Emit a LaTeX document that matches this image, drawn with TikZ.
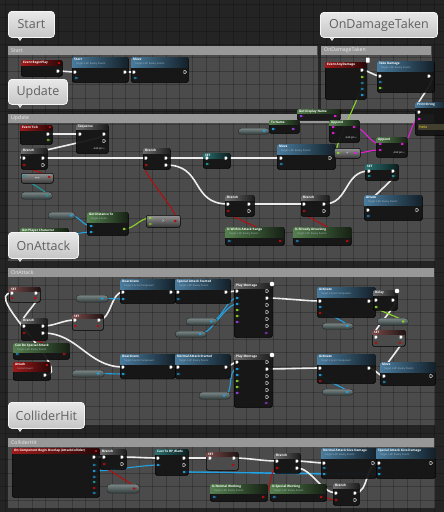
\documentclass[tikz,border=0pt]{standalone}
\usepackage{fontspec}
\setmainfont{Open Sans}
\pgfdeclarelayer{bg}
\pgfdeclarelayer{wires}
\pgfsetlayers{bg,wires,main}
\definecolor{bgcol}{HTML}{242424}
\definecolor{cbodyc}{HTML}{4B4B4B}
\definecolor{cheadc}{HTML}{989898}
\definecolor{nodebg}{HTML}{151515}
\definecolor{nodegrey}{HTML}{4C4C4C}
\definecolor{hred}{HTML}{A01A1A}
\definecolor{hblue}{HTML}{4A7C9E}
\definecolor{hgreen}{HTML}{55804E}
\definecolor{hteal}{HTML}{2A7070}
\definecolor{hgrey}{HTML}{6C6C6C}
\definecolor{hset}{HTML}{7A4A4A}
\definecolor{wblue}{HTML}{22A2E2}
\definecolor{wred}{HTML}{B01010}
\definecolor{wgreen}{HTML}{8CD62C}
\definecolor{wmag}{HTML}{E420D4}
\definecolor{wteal}{HTML}{1E9A9A}
\definecolor{wpurple}{HTML}{9A40E0}
\definecolor{subgrey}{HTML}{B0C0D0}
\definecolor{bubtop}{HTML}{E8E8E8}
\definecolor{bubbot}{HTML}{C6C6C6}
\definecolor{pilltop}{HTML}{7C8888}
\definecolor{pillbot}{HTML}{303A3A}
\def\curfill{nodebg}
\tikzset{
 bpbody/.style={draw=black, fill=\curfill, fill opacity=0.95, rounded corners=1.5pt, inner sep=0pt, line width=0.6pt},
 ntitle/.style={font=\fontsize{3.1}{3.5}\selectfont\bfseries, text=white, inner sep=0pt},
 nsub/.style={font=\fontsize{2.4}{2.8}\selectfont, text=subgrey, inner sep=0pt},
 compact/.style={draw=black, rounded corners=2pt, top color=black!42!white, bottom color=black!78!white, inner sep=0pt, line width=0.5pt},
 pill/.style={draw=black!85, rounded corners=3pt, top color=pilltop, bottom color=pillbot, inner sep=0pt, line width=0.4pt},
 bubble/.style={draw=white!96!black, line width=0.8pt, rounded corners=3.5pt, top color=bubtop, bottom color=bubbot, text=black!62, font=\fontsize{12.5}{14}\selectfont, inner sep=0pt},
 cbox/.style={fill=cbodyc, draw=black!70, line width=0.4pt, inner sep=0pt},
 chtext/.style={font=\fontsize{5.2}{6}\selectfont, text=white!92!black, inner sep=0pt},
 gridline/.style={black, opacity=0.22, line width=0.45pt},
 addpin/.style={font=\fontsize{2.5}{3}\selectfont, text=white, inner sep=0pt, anchor=east},
 wexec/.style={draw=white!93!black, line width=1.6pt},
 wbluew/.style={draw=wblue, line width=1.1pt},
 wredw/.style={draw=wred, line width=1.1pt},
 wgreenw/.style={draw=wgreen, line width=1.1pt},
 wmagw/.style={draw=wmag, line width=1.1pt},
 wtealw/.style={draw=wteal, line width=1.1pt},
}
% node: name,x,y,w,h,headercolour,headerheight,title,subtitle
\newcommand\bpnodeX[9]{%
 \node[bpbody,minimum width=#4pt,minimum height=#5pt,anchor=north west] (#1) at (#2,#3) {};
 \begin{scope}
  \clip[rounded corners=1.5pt] (#1.north west) rectangle (#1.south east);
  \shade[left color=#6,right color=#6!25!black] (#1.north west) rectangle ([yshift=-#7pt]#1.north east);
 \end{scope}
 \node[ntitle,anchor=north west] at ([xshift=2pt,yshift=-0.9pt]#1.north west) {#8};
 \node[nsub,anchor=north west] at ([xshift=4pt,yshift=-5.3pt]#1.north west) {#9};
}
\newcommand\bpnode{\def\curfill{nodebg}\bpnodeX}
\newcommand\bpnodeG{\def\curfill{nodegrey}\bpnodeX}
\newcommand\bpcompact[6]{\node[compact,minimum width=#4pt,minimum height=#5pt,anchor=north west] (#1) at (#2,#3) {};
 \node[font=\fontsize{4}{4}\selectfont\bfseries,text=white!80!black,inner sep=0pt] at (#1.center) {#6};}
\newcommand\bppill[5]{\node[pill,minimum width=#4pt,minimum height=#5pt,anchor=north west] (#1) at (#2,#3) {};}
\newcommand\PinX[3]{\coordinate (#1) at (#2,#3);\fill[white] (#2-1.3,#3-1.5) -- (#2+0.4,#3-1.5) -- (#2+1.6,#3) -- (#2+0.4,#3+1.5) -- (#2-1.3,#3+1.5) -- cycle;}
\newcommand\PinXo[2]{\draw[white,line width=0.45pt] (#1-1.2,#2-1.3) -- (#1+0.4,#2-1.3) -- (#1+1.5,#2) -- (#1+0.4,#2+1.3) -- (#1-1.2,#2+1.3) -- cycle;}
\newcommand\PinD[4]{\coordinate (#1) at (#2,#3);\fill[#4] (#2,#3) circle (1.3pt); \fill[#4] (#2+1.5,#3-1) -- (#2+2.4,#3) -- (#2+1.5,#3+1) -- cycle;}
\newcommand\PinDo[3]{\draw[#3,line width=0.45pt] (#1,#2) circle (1.1pt); \fill[#3] (#1+1.5,#2-1) -- (#1+2.4,#2) -- (#1+1.5,#2+1) -- cycle;}
\newcommand\PinDel[2]{\fill[wred] (#1-1,#2-1) rectangle (#1+1,#2+1);}
\newcommand\Wire[4][14]{\draw[#2] (#3) .. controls +(#1,0) and +(-#1,0) .. (#4);}
\newcommand\Bubble[6]{%
 \fill[bubbot,draw=white,line width=0.5pt] (#2+9,#3+#5-1) -- (#2+15,#3+#5-1) -- (#2+12,#3+#5+3.5) -- cycle;
 \node[bubble,minimum width=#4pt,minimum height=#5pt,anchor=north west] (#1) at (#2,#3) {#6};}
\newcommand\Comment[6]{% name,x,y,w,h,label
 \node[cbox,minimum width=#4pt,minimum height=#5pt,anchor=north west] (#1) at (#2,#3) {};}
\newcommand\CommentHead[2]{%
 \fill[cheadc] (#1.north west) rectangle ([yshift=-8.5pt]#1.north east);
 \node[chtext,anchor=west] at ([xshift=3pt,yshift=-4.3pt]#1.north west) {#2};}

\begin{document}
\begin{tikzpicture}[x=1pt,y=-1pt]
\useasboundingbox (0,0) rectangle (444,512);
\begin{pgfonlayer}{bg}
 \fill[bgcol] (0,0) rectangle (444,512);
 \Comment{cStart}{8}{46}{309}{62}{}
 \Comment{cDmg}{321}{46}{110}{62}{}
 \Comment{cUpd}{8}{114}{426}{146}{}
 \Comment{cAtk}{8}{268}{426}{156}{}
 \Comment{cCol}{8}{438}{426}{69}{}
 \foreach \i in {0,...,33} {\draw[gridline] (\i*13.4+5,0) -- (\i*13.4+5,512);}
 \foreach \j in {0,...,38} {\draw[gridline] (0,\j*13.4+4) -- (444,\j*13.4+4);}
 \CommentHead{cStart}{Start}
 \CommentHead{cDmg}{OnDamageTaken}
 \CommentHead{cUpd}{Update}
 \CommentHead{cAtk}{OnAttack}
 \CommentHead{cCol}{ColliderHit}
\end{pgfonlayer}

% ---------- Start ----------
\bpnode{eBP}{21}{60}{41}{16}{hred}{5}{Event BeginPlay}{}
\PinX{eBPo}{58}{71}\PinDel{59}{62.5}
\bpnode{nStart}{72}{57}{56}{25}{hblue}{10}{Start}{Target is BP Enemy Parent}
\PinX{sIn}{75}{72}\PinX{sOut}{125}{72}\PinDo{76}{78}{wblue}
\bpnode{nMove0}{131}{57}{57}{25}{hblue}{10}{Move}{Target is BP Enemy Parent}
\PinX{m0In}{134}{72}\PinXo{185}{72}\PinDo{135}{78}{wblue}

% ---------- OnDamageTaken ----------
\bpnode{eAD}{325}{62}{41}{37}{hred}{5}{Event AnyDamage}{}
\fill[white,rounded corners=0.5pt] (366,57.5) rectangle (369.5,62.5);
\PinX{adOut}{362}{70}\PinD{adDmg}{362}{77}{wgreen}\PinDo{362}{83}{wblue}\PinDo{362}{89}{wblue}\PinD{u}{362}{95}{wblue}
\bpnode{nTD}{377}{61}{57}{31}{hblue}{10}{Take Damage}{Target is BP Enemy Parent}
\PinX{tdIn}{380}{76}\PinDo{380}{82}{wblue}\PinD{u}{380}{88}{wgreen}\PinX{tdOut}{429}{76}
\bpnode{nPS}{415}{102}{32}{33}{hblue}{5}{Print String}{}
\PinX{psIn}{419}{112}\PinD{psStr}{419}{119}{wmag}
\fill[black!70!olive] (418,124) rectangle (444,130);
\node[font=\fontsize{3.4}{4}\selectfont,text=yellow!80!white,inner sep=0pt,anchor=west] at (419,127) {Hello};

% ---------- Update ----------
\bpnode{eTick}{20}{125}{32}{19}{hred}{5}{Event Tick}{}
\PinX{tickOut}{48}{134}\PinDo{48}{140}{wgreen}\PinDel{50}{127}
\bpnode{nSeq}{76}{124}{32}{29}{hgrey}{5}{Sequence}{}
\PinX{seqIn}{80}{134}\PinX{seqO1}{104}{134}\PinXo{104}{141}
\node[addpin] at (105,149) {Add pin +};
\bpnode{br1}{21}{148}{26}{21}{hgrey}{5}{Branch}{}
\PinX{br1In}{24}{158}\PinD{br1C}{24}{165}{wred}\PinX{br1T}{43}{158}\PinXo{43}{165}
\bpcompact{nEq}{21}{173}{32}{10}{==}
\PinD{eqIn}{24}{176}{wteal}\PinD{eqOut}{49}{177}{wred}
\bppill{pl1}{21}{192}{31}{7}\PinD{pl1o}{47}{195.5}{wteal}
\bpnode{br2}{143}{148}{27}{21}{hgrey}{5}{Branch}{}
\PinX{br2In}{146}{158}\PinD{br2C}{146}{165}{wred}\PinX{br2T}{166}{158}\PinX{br2F}{166}{165}
\bpnode{set1}{203}{153}{27}{15}{hteal}{5}{SET}{}
\PinX{set1In}{207}{158}\PinD{u}{207}{164}{wteal}\PinX{set1Out}{226}{158}
\bppill{pl2}{48}{212}{27}{7}\PinD{pl2o}{71}{215.5}{wblue}
\bpnode{nGD}{87}{212}{41}{23}{hgreen}{10}{Get Distance To}{Target is Actor}
\PinD{gdIn1}{91}{226}{wblue}\PinD{gdIn2}{91}{232}{wblue}\PinD{gdOut}{124}{229}{wgreen}
\bpnode{nGP}{20}{228}{48}{11}{hgreen}{5}{Get Player Character}{}
\PinD{u}{24}{235}{wteal}\PinD{gpOut}{63}{235}{wblue}
\bpcompact{nLt}{146}{215}{34}{12}{>}
\PinD{ltIn1}{150}{218}{wgreen}\PinDo{150}{224}{wgreen}\PinD{ltOut}{175}{221}{wred}
\bpnode{nMove1}{277}{144}{58}{25}{hblue}{10}{Move}{Target is BP Enemy Parent}
\PinX{mv1In}{281}{158}\PinDo{281}{164}{wblue}\PinXo{330}{158}
\bpnode{nGDN}{297}{109}{43}{11}{hgreen}{4.5}{Get Display Name}{}
\PinD{gdnIn}{301}{116}{wpurple}\PinD{gdnOut}{335}{116}{wmag}
\bpnode{nTN}{269}{120}{30}{13}{hgreen}{4.5}{To Name}{}
\PinD{tnIn}{273}{129}{wblue}\PinD{tnOut}{293}{129}{wpurple}
\bppill{pl3}{238}{128}{31}{6}\PinD{pl3o}{264}{131}{wblue}
\bpnode{ap1}{329}{120}{30}{22}{hgreen}{5}{Append}{}
\PinD{ap1A}{333}{127}{wmag}\PinD{ap1B}{333}{133}{wmag}\PinD{ap1O}{354}{127}{wmag}
\node[addpin] at (357,138) {Add pin +};
\bpnode{ap2}{376}{137}{31}{20}{hgreen}{5}{Append}{}
\PinD{ap2A}{380}{144}{wmag}\PinD{ap2B}{380}{150}{wmag}\PinD{ap2O}{402}{144}{wmag}
\node[addpin] at (405,153) {Add pin +};
\bpcompact{nTS}{334}{148}{26}{10}{+}
\PinD{tsIn}{338}{153}{wgreen}\PinD{tsOut}{355}{153}{wmag}
\bpnode{set2}{365}{164}{33}{16}{hteal}{5}{SET}{}
\PinX{set2In}{369}{171}\PinD{u}{369}{176}{wteal}\PinX{set2Out}{393}{171}\PinD{u}{393}{176}{wteal}
\bpnode{br3}{225}{195}{29}{21}{hgrey}{5}{Branch}{}
\PinX{br3In}{228}{204}\PinD{br3C}{228}{211}{wred}\PinX{br3T}{249}{204}\PinXo{249}{211}
\bpnode{br4}{301}{195}{28}{21}{hgrey}{5}{Branch}{}
\PinX{br4In}{304}{204}\PinD{br4C}{304}{211}{wred}\PinX{br4T}{324}{204}\PinXo{324}{211}
\bpnode{nAtk}{364}{195}{58}{25}{hblue}{10}{Attack}{Target is BP Enemy Parent}
\PinX{atkIn}{368}{210}\PinDo{368}{216}{wblue}\PinXo{417}{210}
\bpnode{nWR}{225}{227}{59}{18}{hgreen}{10}{Is Within Attack Range}{Target is BP Enemy Parent}
\PinDo{229}{241}{wblue}\PinD{wrOut}{280}{241}{wred}
\bpnode{nAA}{293}{227}{58}{18}{hgreen}{10}{Is Already Attacking}{Target is BP Enemy Parent}
\PinDo{297}{241}{wblue}\PinD{aaOut}{347}{241}{wred}

% ---------- OnAttack ----------
\bpnodeG{set3}{9}{287}{31}{15}{hset}{4}{SET}{}
\PinX{s3In}{12}{293}\PinD{u}{12}{298}{wred}\PinX{s3Out}{36}{293}\PinD{u}{35}{298}{wred}
\bpnode{obr}{21}{318}{26}{22}{hgrey}{5}{Branch}{}
\PinX{obIn}{24}{326}\PinD{obC}{24}{333}{wred}\PinX{obT}{43}{326}\PinX{obF}{43}{333}
\bpnodeG{set4}{72}{314}{31}{16}{hset}{4}{SET}{}
\PinX{s4In}{75}{320}\PinD{u}{75}{326}{wred}\PinX{s4Out}{99}{320}\PinD{u}{98}{326}{wred}
\bpnode{nCD}{13}{343}{56}{16}{hgreen}{9}{Can Do Special Attack}{Target is BP Enemy Parent}
\PinDo{17}{354}{wblue}\PinD{cdOut}{64}{354}{wred}
\bpnode{eAtk}{13}{362}{37}{18}{hred}{9}{Attack}{Custom Event}
\PinX{atkEvOut}{45}{375}\PinDel{47}{364.5}
\bppill{pA}{76}{295}{32}{7}\PinD{pao}{102}{298.5}{wblue}
\bppill{pB}{72}{370}{32}{7}\PinD{pbo}{98}{373.5}{wblue}
\bpnode{d1}{120}{279}{55}{24}{hblue}{10}{Deactivate}{Target is Actor Component}
\PinX{d1In}{123}{292}\PinD{d1T}{123}{299}{wblue}\PinX{d1Out}{171}{292}
\bpnode{nSAS}{175}{279}{55}{24}{hblue}{10}{Special Attack Started}{Target is BP Enemy Parent}
\PinX{sasIn}{178}{292}\PinDo{178}{299}{wblue}\PinX{sasOut}{226}{292}
\bpnode{d2}{120}{354}{55}{24}{hblue}{10}{Deactivate}{Target is Actor Component}
\PinX{d2In}{123}{367}\PinD{d2T}{123}{374}{wblue}\PinX{d2Out}{171}{367}
\bpnode{nNAS}{175}{354}{55}{24}{hblue}{10}{Normal Attack Started}{Target is BP Enemy Parent}
\PinX{nasIn}{178}{367}\PinDo{178}{374}{wblue}\PinX{nasOut}{226}{367}
\bpnode{pm1}{234}{283}{38}{54}{hgrey}{5}{Play Montage}{}
\PinX{pm1In}{237}{291}\PinD{pm1A}{237}{298}{wblue}\PinD{pm1B}{237}{304}{wblue}\PinD{u}{237}{310}{wgreen}\PinD{u}{237}{316}{wgreen}\PinD{u}{237}{322}{wpurple}
\PinXo{267}{291}\PinX{pm1O}{267}{298}\PinXo{267}{305}\PinXo{267}{312}\PinXo{267}{319}\PinXo{267}{326}\PinDo{266}{333}{wpurple}
\fill[white] (272,284) circle (2.3pt);
\bpnode{pm2}{234}{354}{38}{53}{hgrey}{5}{Play Montage}{}
\PinX{pm2In}{237}{362}\PinD{pm2A}{237}{369}{wblue}\PinD{pm2B}{237}{375}{wblue}\PinD{u}{237}{381}{wgreen}\PinD{u}{237}{387}{wgreen}\PinD{u}{237}{393}{wpurple}
\PinXo{267}{362}\PinX{pm2O}{267}{369}\PinXo{267}{376}\PinXo{267}{383}\PinXo{267}{390}\PinXo{267}{397}\PinDo{266}{403}{wpurple}
\fill[white] (272,355) circle (2.3pt);
\bppill{pC}{186}{318}{31}{7}\PinD{pco}{211}{321.5}{wblue}
\bppill{pD}{175}{331}{31}{6}\PinD{pdo}{200}{334}{wblue}
\bppill{pE}{199}{392}{31}{7}\PinD{peo}{224}{395.5}{wblue}
\bpnode{ac1}{317}{287}{58}{30}{hblue}{10}{Activate}{Target is Actor Component}
\PinX{ac1In}{320}{301}\PinD{ac1T}{320}{307}{wblue}\PinD{u}{320}{313}{wred}\PinX{ac1Out}{369}{301}
\bpnode{dly}{373}{290}{24}{20}{hgrey}{5}{Delay}{}
\PinX{dlIn}{376}{300}\PinD{dlD}{376}{307}{wgreen}\PinX{dlOut}{393}{300}
\fill[white] (397,291) circle (2.3pt);
\bppill{gpl}{377}{318}{31}{7}\PinD{gplo}{403}{321.5}{wgreen}
\bpnodeG{set5}{372}{330}{33}{16}{hset}{4}{SET}{}
\PinX{s5In}{376}{337}\PinD{u}{376}{343}{wred}\PinX{s5Out}{401}{337}\PinD{u}{400}{343}{wred}
\bppill{pF}{322}{323}{31}{6}\PinD{pfo}{347}{326}{wblue}
\bpnode{ac2}{317}{354}{58}{29}{hblue}{10}{Activate}{Target is Actor Component}
\PinX{ac2In}{320}{368}\PinD{ac2T}{320}{375}{wblue}\PinD{u}{320}{381}{wred}\PinX{ac2Out}{369}{368}
\bppill{pG}{322}{389}{31}{6}\PinD{pgo}{347}{392}{wblue}
\bpnode{mv3}{380}{362}{55}{23}{hblue}{10}{Move}{Target is BP Enemy Parent}
\PinX{mv3In}{384}{376}\PinDo{384}{382}{wblue}\PinXo{431}{376}

% ---------- ColliderHit ----------
\bpnode{eOC}{12}{448}{87}{49}{hred}{5}{On Component Begin Overlap (AttackCollider)}{}
\PinDel{96}{451}
\PinX{ocOut}{94}{457}\PinDo{94}{465}{wblue}\PinD{ocB}{94}{471}{wblue}\PinDo{94}{477}{wblue}\PinD{u}{94}{482}{wteal}\PinD{u}{94}{488}{wred}\PinDo{94}{493}{wblue}
\bpnode{cbr}{100}{449}{26}{20}{hgrey}{5}{Branch}{}
\PinX{cbIn}{104}{457}\PinD{cbC}{104}{464}{wred}\PinX{cbT}{122}{457}\PinXo{122}{464}
\bpnode{nCast}{155}{449}{33}{26}{hteal}{5}{Cast To BP\_Blade}{}
\PinX{caIn}{158}{458}\PinD{caObj}{158}{465}{wblue}\PinX{caOut}{184}{458}\PinXo{184}{465}\PinD{caB}{184}{472}{wblue}
\bppill{cp}{107}{484}{32}{9}\PinD{cpo}{134}{488.5}{wred}
\bpnodeG{sx}{206}{452}{32}{18}{hset}{4}{SET}{}
\PinX{sxIn}{210}{458}\PinX{sxOut}{234}{458}\PinD{u}{233}{465}{wred}
\bpnode{nNW}{210}{484}{57}{17}{hgreen}{9}{Is Normal Working}{Target is BP Enemy Parent}
\PinDo{214}{497}{wblue}\PinD{nwOut}{263}{497}{wred}
\bpnode{nSW}{270}{484}{56}{17}{hgreen}{9}{Is Special Working}{Target is BP Enemy Parent}
\PinDo{274}{497}{wblue}\PinD{swOut}{321}{497}{wred}
\bpnode{cbr2}{274}{453}{26}{20}{hgrey}{5}{Branch}{}
\PinX{cb2In}{277}{461}\PinD{cb2C}{277}{468}{wred}\PinX{cb2T}{297}{461}\PinX{cb2F}{297}{468}
\bpnode{nNG}{321}{448}{55}{30}{hblue}{10}{Normal Attack Give Damage}{Target is BP Enemy Parent}
\PinX{ngIn}{324}{463}\PinDo{324}{468}{wblue}\PinD{ngB}{324}{474}{wblue}\PinXo{373}{463}
\bpnode{nSG}{376}{448}{59}{30}{hblue}{10}{Special Attack Give Damage}{Target is BP Enemy Parent}
\PinX{sgIn}{379}{463}\PinDo{379}{468}{wblue}\PinD{sgB}{379}{474}{wblue}\PinXo{431}{463}
\bpnode{cbr3}{333}{483}{26}{22}{hgrey}{5}{Branch}{}
\PinX{cb3In}{336}{493}\PinD{cb3C}{336}{500}{wred}\PinX{cb3T}{355}{493}\PinXo{355}{500}

% ---------- bubbles ----------
\Bubble{bStart}{8}{11}{46}{26}{Start}
\Bubble{bDmg}{320}{12}{117}{25}{OnDamageTaken}
\Bubble{bUpd}{8}{79}{59}{25}{Update}
\Bubble{bAtk}{8}{232}{70}{26}{OnAttack}
\Bubble{bCol}{8}{402}{76}{26}{ColliderHit}

% ---------- wires ----------
\begin{pgfonlayer}{wires}
 \Wire[5]{wexec}{eBPo}{sIn}
 \Wire[3]{wexec}{sOut}{m0In}
 \Wire[6]{wexec}{adOut}{tdIn}
 \Wire[14]{wexec}{tdOut}{psIn}
 \Wire[10]{wgreenw}{adDmg}{tsIn}
 % update
 \Wire[8]{wexec}{tickOut}{seqIn}
 \Wire[25]{wexec}{seqO1}{br1In}
 \Wire[10]{wexec}{br1T}{br2In}
 \Wire[10]{wexec}{br2T}{set1In}
 \Wire[10]{wexec}{set1Out}{mv1In}
 \Wire[38]{wexec}{br2F}{br3In}
 \Wire[10]{wexec}{br3T}{br4In}
 \Wire[25]{wexec}{br4T}{set2In}
 \Wire[16]{wexec}{set2Out}{atkIn}
 \Wire[12]{wredw}{ltOut}{br2C}
 \Wire[14]{wredw}{wrOut}{br3C}
 \Wire[14]{wredw}{aaOut}{br4C}
 \Wire[8]{wredw}{eqOut}{br1C}
 \Wire[8]{wtealw}{pl1o}{eqIn}
 \Wire[8]{wbluew}{pl2o}{gdIn1}
 \Wire[8]{wbluew}{gpOut}{gdIn2}
 \Wire[10]{wgreenw}{gdOut}{ltIn1}
 \Wire[10]{wmagw}{ap1O}{ap2A}
 \Wire[10]{wmagw}{tsOut}{ap2B}
 \Wire[8]{wmagw}{ap2O}{psStr}
 \Wire[4]{wbluew}{pl3o}{tnIn}
 % onattack
 \Wire[32]{wexec}{atkEvOut}{s3In}
 \Wire[14]{wexec}{s3Out}{obIn}
 \Wire[12]{wexec}{obT}{s4In}
 \Wire[12]{wexec}{s4Out}{d1In}
 \Wire[35]{wexec}{obF}{d2In}
 \Wire[3]{wexec}{d1Out}{sasIn}
 \Wire[3]{wexec}{sasOut}{pm1In}
 \Wire[3]{wexec}{d2Out}{nasIn}
 \Wire[3]{wexec}{nasOut}{pm2In}
 \Wire[12]{wexec}{pm1O}{ac1In}
 \Wire[12]{wexec}{pm2O}{ac2In}
 \Wire[3]{wexec}{ac1Out}{dlIn}
 \Wire[12]{wexec}{dlOut}{s5In}
 \Wire[12]{wexec}{s5Out}{mv3In}
 \Wire[6]{wexec}{ac2Out}{mv3In}
 \Wire[8]{wredw}{cdOut}{obC}
 \Wire[6]{wbluew}{pao}{d1T}
 \Wire[6]{wbluew}{pbo}{d2T}
 \Wire[10]{wbluew}{pco}{pm1A}
 \Wire[12]{wbluew}{pdo}{pm1B}
 \Wire[10]{wbluew}{peo}{pm2A}
 \Wire[8]{wbluew}{pfo}{ac1T}
 \Wire[8]{wbluew}{pgo}{ac2T}
 \Wire[8]{wgreenw}{gplo}{dlD}
 % colliderhit
 \Wire[4]{wexec}{ocOut}{cbIn}
 \Wire[14]{wexec}{cbT}{caIn}
 \Wire[14]{wbluew}{ocB}{caObj}
 \Wire[10]{wredw}{cpo}{cbC}
 \Wire[4]{wexec}{caOut}{sxIn}
 \Wire[14]{wexec}{sxOut}{cb2In}
 \Wire[20]{wbluew}{caB}{ngB}
 \Wire[20]{wbluew}{caB}{sgB}
 \Wire[6]{wexec}{cb2T}{ngIn}
 \Wire[14]{wexec}{cb2F}{cb3In}
 \Wire[14]{wexec}{cb3T}{sgIn}
 \Wire[8]{wredw}{nwOut}{cb2C}
 \Wire[8]{wredw}{swOut}{cb3C}
\end{pgfonlayer}
\end{tikzpicture}
\end{document}
